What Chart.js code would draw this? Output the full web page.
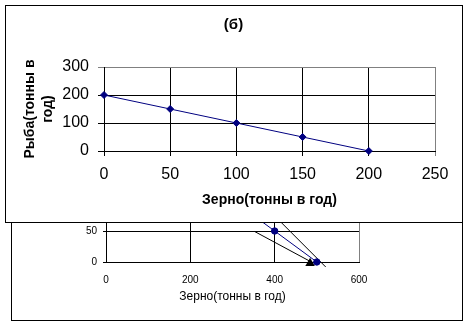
<!DOCTYPE html>
<html>
<head>
<meta charset="utf-8">
<script src="https://cdn.jsdelivr.net/npm/chart.js@4/dist/chart.umd.min.js"></script>
<style>
  html, body { margin: 0; padding: 0; background: #fff; width: 467px; height: 325px; overflow: hidden; }
  .box { position: absolute; box-sizing: border-box; border: 1px solid #000; background: #fff; }
  canvas { position: absolute; left: 0; top: 0; }
</style>
</head>
<body>
<div class="box" id="lowBox" style="left:11px; top:10px; width:452px; height:311px; z-index:1;"></div>
<canvas id="lowChart" width="467" height="325" style="z-index:2;"></canvas>
<div class="box" id="topBox" style="left:5px; top:5px; width:458px; height:218px; z-index:3;"></div>
<canvas id="topChart" width="467" height="325" style="z-index:4;"></canvas>
<script>
// ---- data: upper chart (б) ----
const topTitle = '(б)';
const topXTitle = 'Зерно(тонны в год)';
const topYTitle = ['Рыба(тонны в', 'год)'];
const topGrain = [0, 50, 100, 150, 200];
const topFish = [200, 150, 100, 50, 0];
const topXTicks = [0, 50, 100, 150, 200, 250];
const topYTicks = [0, 100, 200, 300];

// ---- data: lower (partly hidden) chart ----
const lowXTitle = 'Зерно(тонны в год)';
const lowGrain = [300, 400, 500];
const lowFish = [100, 50, 0];
const lineAGrain = [380, 521];
const lineAFish = [88, -8];
const lineBGrain = [353, 487];
const lineBFish = [49, 0];
const markerGrain = [484];
const markerFish = [-2];
const lowXTicks = [0, 200, 400, 600];
const lowYTicks = [0, 50, 100, 150, 200, 250, 300];

const FONT = '"Liberation Sans", Arial, sans-serif';
const pts = (xs, ys) => xs.map((x, i) => ({ x: x, y: ys[i] }));
const setTicks = arr => s => { s.ticks = arr.map(v => ({ value: v })); };

Chart.defaults.animation = false;
Chart.defaults.responsive = false;
Chart.defaults.font.family = FONT;
Chart.defaults.color = '#000';

// Lower chart
new Chart(document.getElementById('lowChart'), {
  type: 'scatter',
  data: {
    datasets: [
      { data: pts(lowGrain, lowFish), showLine: true, borderColor: '#000080', backgroundColor: '#000080',
        borderWidth: 1, pointRadius: 3.2, pointStyle: 'circle', clip: false },
      { data: pts(lineAGrain, lineAFish), showLine: true, borderColor: '#000', borderWidth: 1,
        pointRadius: 0, clip: false },
      { data: pts(lineBGrain, lineBFish), showLine: true, borderColor: '#000', borderWidth: 1,
        pointRadius: 0, clip: false },
      { data: pts(markerGrain, markerFish), showLine: false, pointStyle: 'triangle', pointRadius: 5.5,
        backgroundColor: '#000', borderColor: '#000', borderWidth: 0, clip: false }
    ]
  },
  options: {
    layout: { padding: { left: 0, right: 108, top: 76, bottom: 0 } },
    plugins: { legend: { display: false }, tooltip: { enabled: false } },
    scales: {
      x: {
        type: 'linear', min: 0, max: 600,
        afterBuildTicks: setTicks(lowXTicks),
        afterFit: s => { s.height = 63; },
        grid: { color: c => (c.tick && c.tick.value === 600 ? '#808080' : '#000'), drawTicks: false },
        border: { color: '#000' },
        ticks: { font: { size: 10 }, padding: 12, maxRotation: 0 },
        title: { display: true, text: lowXTitle, font: { size: 12, lineHeight: 1.2 }, padding: { top: 0, bottom: 21 } }
      },
      y: {
        type: 'linear', min: 0, max: 300,
        afterBuildTicks: setTicks(lowYTicks),
        afterFit: s => { s.width = 106; },
        grid: { color: '#000', tickLength: 3 },
        border: { color: '#000' },
        ticks: { font: { size: 10 }, padding: 6 }
      }
    }
  }
});

// Upper chart
new Chart(document.getElementById('topChart'), {
  type: 'scatter',
  data: {
    datasets: [
      { data: pts(topGrain, topFish), showLine: true, borderColor: '#000080', backgroundColor: '#000080',
        borderWidth: 1, pointRadius: 3.5, pointStyle: 'rectRot', clip: false }
    ]
  },
  options: {
    layout: { padding: { left: 0, right: 0, top: 5, bottom: 103 } },
    plugins: {
      legend: { display: false }, tooltip: { enabled: false },
      title: { display: true, text: topTitle, color: '#000',
        font: { size: 15, weight: 'bold', lineHeight: 1.2 }, padding: { top: 11, bottom: 33 } }
    },
    scales: {
      x: {
        type: 'linear', min: 0, max: 250,
        afterBuildTicks: setTicks(topXTicks),
        afterFit: s => { s.height = 71; },
        grid: { color: c => (c.tick && c.tick.value === 250 ? '#808080' : '#000'), tickLength: 5 },
        border: { color: '#000' },
        ticks: { font: { size: 16, lineHeight: 1.2 }, padding: 9.4, maxRotation: 0 },
        title: { display: true, text: topXTitle, font: { size: 14, weight: 'bold', lineHeight: 1.2 },
          padding: { top: 0, bottom: 13.6 } }
      },
      y: {
        type: 'linear', min: 0, max: 300,
        afterBuildTicks: setTicks(topYTicks),
        afterFit: s => { s.width = 104; },
        grid: { color: c => (c.tick && c.tick.value === 300 ? '#808080' : '#000'), tickLength: 6 },
        border: { color: '#000' },
        ticks: { font: { size: 16 }, padding: 9 },
        title: { display: true, text: topYTitle, font: { size: 14, weight: 'bold', lineHeight: 1.3 },
          padding: { top: 21, bottom: 0 } }
      },
      yr: {
        type: 'linear', position: 'right', min: 0, max: 300,
        afterFit: s => { s.width = 32; },
        grid: { display: false, drawTicks: false },
        border: { display: false },
        ticks: { display: false }
      }
    }
  }
});
</script>
</body>
</html>
